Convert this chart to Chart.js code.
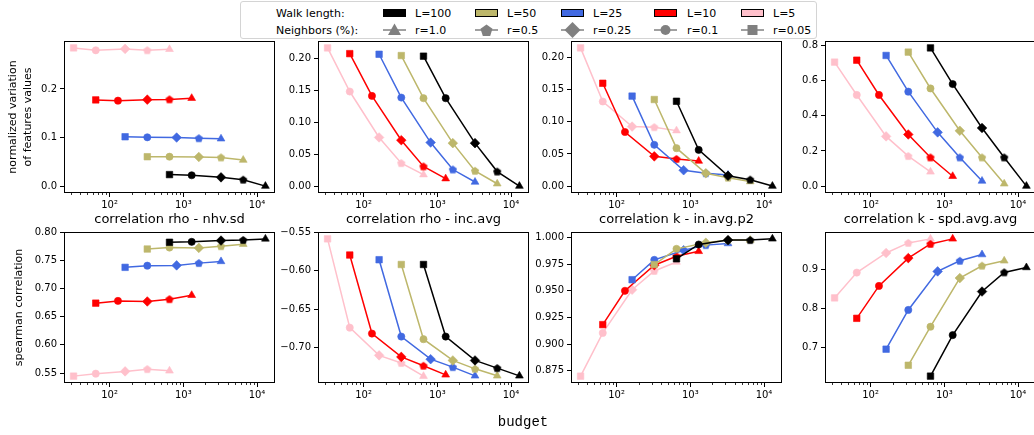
<!DOCTYPE html>
<html><head><meta charset="utf-8">
<script src="https://cdn.jsdelivr.net/npm/chart.js@4.4.1/dist/chart.umd.min.js"></script>
<style>
html,body{margin:0;padding:0;background:#fff;}
#wrap{position:relative;width:1034px;height:435px;overflow:hidden;background:#fff;font-family:'DejaVu Sans',sans-serif;}
#wrap canvas.panel{position:absolute;}
#legendBox{position:absolute;left:240px;top:1px;width:577px;height:38px;box-sizing:border-box;border:1px solid #d4d4d4;border-radius:3px;background:#fff;z-index:5;}
.lt{position:absolute;font-size:11px;line-height:13px;white-space:nowrap;color:#000;transform:translateY(-50%);z-index:6;}
.patch{position:absolute;width:23px;height:8px;box-sizing:border-box;border:1px solid #000;z-index:6;}
.mk{position:absolute;z-index:6;}
#xlabel{position:absolute;left:523px;top:422px;transform:translate(-50%,-50%);font-family:'Liberation Mono','DejaVu Sans Mono',monospace;font-size:14px;color:#000;white-space:nowrap;}
</style></head><body>
<div id="wrap"></div>
<script>
// ---------------- data ----------------
const walkLabels = ['L=100', 'L=50', 'L=25', 'L=10', 'L=5'];
const ratioLabels = ['r=1.0', 'r=0.5', 'r=0.25', 'r=0.1', 'r=0.05'];
// budgets per walk length, for r = 0.05, 0.1, 0.25, 0.5, 1.0
const budgetL100 = [650, 1300, 3250, 6500, 13000];
const budgetL50  = [325, 650, 1625, 3250, 6500];
const budgetL25  = [162.5, 325, 812.5, 1625, 3250];
const budgetL10  = [65, 130, 325, 650, 1300];
const budgetL5   = [32.5, 65, 162.5, 325, 650];
const budgets = [budgetL100, budgetL50, budgetL25, budgetL10, budgetL5];

// top row: normalized variation of features values (order L=100,50,25,10,5)
const varNhvSd = [
  [0.0237, 0.0223, 0.0180, 0.0132, 0.0000],
  [0.0605, 0.0605, 0.0600, 0.0590, 0.0536],
  [0.1016, 0.1005, 0.1000, 0.0985, 0.0975],
  [0.1775, 0.1760, 0.1780, 0.1785, 0.1810],
  [0.2846, 0.2797, 0.2825, 0.2797, 0.2818]
];
const varIncAvg = [
  [0.204, 0.138, 0.0674, 0.0228, 0.0000],
  [0.205, 0.138, 0.0674, 0.0239, 0.0037],
  [0.207, 0.139, 0.0684, 0.0260, 0.0064],
  [0.208, 0.1416, 0.0721, 0.0308, 0.0117],
  [0.217, 0.1485, 0.0764, 0.0360, 0.0180]
];
const varInAvgP2 = [
  [0.132, 0.0563, 0.0160, 0.0100, 0.0000],
  [0.1347, 0.0590, 0.0200, 0.0130, 0.0070],
  [0.140, 0.0642, 0.0247, 0.0200, 0.0174],
  [0.160, 0.0842, 0.0463, 0.0421, 0.0390],
  [0.215, 0.1316, 0.0926, 0.0916, 0.0863]
];
const varSpdAvgAvg = [
  [0.787, 0.581, 0.331, 0.163, 0.000],
  [0.763, 0.556, 0.315, 0.163, 0.013],
  [0.744, 0.538, 0.306, 0.163, 0.029],
  [0.717, 0.519, 0.294, 0.163, 0.056],
  [0.706, 0.519, 0.283, 0.171, 0.081]
];
// bottom row: spearman correlation
const corrRhoNhvSd = [
  [0.782, 0.7827, 0.785, 0.786, 0.788],
  [0.770, 0.7726, 0.772, 0.775, 0.7786],
  [0.7375, 0.7405, 0.741, 0.745, 0.748],
  [0.674, 0.678, 0.677, 0.681, 0.688],
  [0.5446, 0.549, 0.553, 0.557, 0.554]
];
const corrRhoIncAvg = [
  [-0.592, -0.6856, -0.7166, -0.7266, -0.7366],
  [-0.592, -0.689, -0.7166, -0.7275, -0.7366],
  [-0.5858, -0.6856, -0.715, -0.7253, -0.7366],
  [-0.5797, -0.6817, -0.712, -0.7235, -0.7353],
  [-0.5587, -0.674, -0.710, -0.720, -0.737]
];
const corrKInAvgP2 = [
  [0.980, 0.9934, 0.9975, 0.9975, 0.9987],
  [0.9746, 0.9893, 0.995, 0.9975, 0.9975],
  [0.9604, 0.979, 0.988, 0.9928, 0.9943],
  [0.9183, 0.950, 0.974, 0.9824, 0.987],
  [0.870, 0.9105, 0.951, 0.9686, 0.977]
];
const corrKSpdAvgAvg = [
  [0.627, 0.7316, 0.8427, 0.8915, 0.904],
  [0.6547, 0.753, 0.877, 0.9085, 0.921],
  [0.6957, 0.7957, 0.894, 0.921, 0.937],
  [0.7744, 0.857, 0.928, 0.964, 0.977],
  [0.8265, 0.891, 0.941, 0.9667, 0.977]
];

const panelTitles = ['correlation rho - nhv.sd', 'correlation rho - inc.avg', 'correlation k - in.avg.p2', 'correlation k - spd.avg.avg'];
const yTicksP1 = [0.0, 0.1, 0.2];
const yTicksP2 = [0.00, 0.05, 0.10, 0.15, 0.20];
const yTicksP3 = [0.00, 0.05, 0.10, 0.15, 0.20];
const yTicksP4 = [0.0, 0.2, 0.4, 0.6, 0.8];
const yTicksP5 = [0.55, 0.60, 0.65, 0.70, 0.75, 0.80];
const yTicksP6 = [-0.70, -0.65, -0.60, -0.55];
const yTicksP7 = [0.875, 0.900, 0.925, 0.950, 0.975, 1.000];
const yTicksP8 = [0.7, 0.8, 0.9];
const xMajorTicks = [100, 1000, 10000];
const xMinorTicks = [30,40,50,60,70,80,90,200,300,400,500,600,700,800,900,2000,3000,4000,5000,6000,7000,8000,9000];
const xTickLabels = {100: '10\u00B2', 1000: '10\u00B3', 10000: '10\u2074'};

// ---------------- styles ----------------
const walkColors = ['#000000', '#BDB76B', '#4169E1', '#FF0000', '#FFC0CB'];
const X_MIN = 24.1, X_MAX = 17540;

function pentagonImg(color, r) {
  const s = 10;
  const c = document.createElement('canvas'); c.width = s; c.height = s;
  const g = c.getContext('2d');
  g.beginPath();
  for (let k = 0; k < 5; k++) {
    const a = -Math.PI / 2 + k * 2 * Math.PI / 5;
    const px = s / 2 + r * Math.cos(a), py = s / 2 + 0.3 + r * Math.sin(a);
    if (k) g.lineTo(px, py); else g.moveTo(px, py);
  }
  g.closePath(); g.fillStyle = color; g.fill();
  return c;
}

const panels = [
  {values: varNhvSd, yMin: -0.0142, yMax: 0.2988, ticks: yTicksP1, dec: 1, yTitle: ['normalized variation', 'of features values'], yTitlePad: 1.5},
  {values: varIncAvg, yMin: -0.01085, yMax: 0.22785, ticks: yTicksP2, dec: 2},
  {values: varInAvgP2, yMin: -0.01075, yMax: 0.22575, ticks: yTicksP3, dec: 2},
  {values: varSpdAvgAvg, yMin: -0.03935, yMax: 0.82635, ticks: yTicksP4, dec: 1},
  {values: corrRhoNhvSd, yMin: 0.5324, yMax: 0.8002, ticks: yTicksP5, dec: 2, title: panelTitles[0], yTitle: 'spearman correlation', yTitlePad: 7.5},
  {values: corrRhoIncAvg, yMin: -0.7459, yMax: -0.5498, ticks: yTicksP6, dec: 2, title: panelTitles[1]},
  {values: corrKInAvgP2, yMin: 0.8636, yMax: 1.0051, ticks: yTicksP7, dec: 3, title: panelTitles[2]},
  {values: corrKSpdAvgAvg, yMin: 0.6095, yMax: 0.9945, ticks: yTicksP8, dec: 1, title: panelTitles[3]}
];

const colLefts = [64, 318, 571, 825];
const rowTops = [41, 232];
const rowHeights = [152, 151];
const PLOT_W = 211, YW = 60, PT = 10, PR = 10, XH = 30;

function fmt(v, dec) {
  return v.toFixed(dec).replace('-', '\u2212');
}

const framePlugin = {
  id: 'frame',
  afterDatasetsDraw(chart) {
    const {ctx, chartArea: a, scales: {x}} = chart;
    ctx.save();
    ctx.strokeStyle = '#000'; ctx.lineWidth = 1;
    const l = Math.round(a.left) + 0.5, t = Math.round(a.top) + 0.5;
    const r = Math.round(a.right) - 0.5, b = Math.round(a.bottom) - 0.5;
    ctx.strokeRect(l, t, r - l, b - t);
    ctx.lineWidth = 0.8;
    xMinorTicks.forEach(v => {
      const px = Math.round(x.getPixelForValue(v)) + 0.5;
      ctx.beginPath(); ctx.moveTo(px, b); ctx.lineTo(px, b + 2.5); ctx.stroke();
    });
    ctx.restore();
  }
};

Chart.defaults.font.family = "'DejaVu Sans', sans-serif";
Chart.defaults.color = '#000';

const wrap = document.getElementById('wrap');

panels.forEach((p, idx) => {
  const col = idx % 4, row = Math.floor(idx / 4);
  const TH = p.title ? 20 : 0;
  const cv = document.createElement('canvas');
  cv.className = 'panel';
  cv.width = YW + PLOT_W + PR;
  cv.height = PT + TH + rowHeights[row] + XH;
  cv.style.left = (colLefts[col] - YW) + 'px';
  cv.style.top = (rowTops[row] - PT - TH) + 'px';
  cv.style.width = cv.width + 'px';
  cv.style.height = cv.height + 'px';
  wrap.appendChild(cv);

  const datasets = walkLabels.map((lab, i) => {
    const c = walkColors[i];
    const pent = pentagonImg(c, 4.3);
    return {
      label: lab,
      data: budgets[i].map((b, j) => ({x: b, y: p.values[i][j]})),
      borderColor: c,
      backgroundColor: c,
      borderWidth: 1.5,
      tension: 0,
      pointStyle: ['rect', 'circle', 'rectRot', pent, 'triangle'],
      pointRadius: [4.6, 3.6, 4.8, 4, 4.5],
      pointBorderWidth: 0.6,
      pointBorderColor: c,
      pointBackgroundColor: c,
      clip: 8
    };
  });

  new Chart(cv, {
    type: 'line',
    data: {datasets},
    options: {
      responsive: false,
      animation: false,
      devicePixelRatio: 1,
      events: [],
      layout: {padding: {top: PT, right: PR, bottom: 0, left: 0}},
      plugins: {
        legend: {display: false},
        tooltip: {enabled: false},
        title: p.title ? {display: true, text: p.title, fullSize: false, font: {size: 13, weight: 'normal', lineHeight: 1.2}, padding: {top: 0, bottom: 4.4}, color: '#000'} : {display: false}
      },
      scales: {
        x: {
          type: 'logarithmic', min: X_MIN, max: X_MAX, bounds: 'data',
          afterBuildTicks: s => { s.ticks = xMajorTicks.concat(xMinorTicks).sort((a, b) => a - b).map(v => ({value: v})); },
          ticks: {autoSkip: false, maxRotation: 0, minRotation: 0, padding: 2, font: {size: 10}, color: '#000',
            callback: v => xTickLabels[v] || ''},
          grid: {drawOnChartArea: false, tickLength: 4, tickWidth: 1,
            tickColor: c => (c.tick && xMajorTicks.includes(c.tick.value)) ? '#000' : 'rgba(0,0,0,0)'},
          border: {display: false},
          afterFit: s => { s.height = XH; }
        },
        y: {
          type: 'linear', min: p.yMin, max: p.yMax, bounds: 'data',
          afterBuildTicks: s => { s.ticks = p.ticks.map(v => ({value: v})); },
          ticks: {padding: 3, font: {size: 10}, color: '#000', callback: v => fmt(v, p.dec)},
          grid: {drawOnChartArea: false, tickLength: 4, tickWidth: 1, tickColor: '#000'},
          border: {display: false},
          title: p.yTitle ? {display: true, text: p.yTitle, font: {size: 11, lineHeight: 1.36}, color: '#000', padding: {top: p.yTitlePad, bottom: 0}} : {display: false},
          afterFit: s => { s.width = YW; }
        }
      }
    },
    plugins: [framePlugin]
  });
});

// ---------------- legend ----------------
const legendBox = document.createElement('div');
legendBox.id = 'legendBox';
wrap.appendChild(legendBox);

function addText(txt, left, cy) {
  const d = document.createElement('div');
  d.className = 'lt'; d.textContent = txt;
  d.style.left = left + 'px'; d.style.top = cy + 'px';
  wrap.appendChild(d);
}
const handleLefts = [383, 475, 561, 654, 741];
const labelLefts = [415, 507, 593, 687, 773];
const row1Y = 12.5, row2Y = 30;
addText('Walk length:', 276, row1Y);
addText('Neighbors (%):', 276, row2Y);
walkLabels.forEach((lab, i) => {
  const pd = document.createElement('div');
  pd.className = 'patch';
  pd.style.left = handleLefts[i] + 'px';
  pd.style.top = (row1Y - 4) + 'px';
  pd.style.background = walkColors[i];
  wrap.appendChild(pd);
  addText(lab, labelLefts[i], row1Y);
});

const legendShapes = ['triangle', 'pentagon', 'diamond', 'circle', 'square'];
function drawLegendMarker(g, shape, cx, cy) {
  g.beginPath();
  if (shape === 'triangle') {
    g.moveTo(cx, cy - 6.5); g.lineTo(cx + 6.5, cy + 5); g.lineTo(cx - 6.5, cy + 5);
  } else if (shape === 'pentagon') {
    for (let k = 0; k < 5; k++) {
      const a = -Math.PI / 2 + k * 2 * Math.PI / 5;
      const px = cx + 6.3 * Math.cos(a), py = cy + 0.8 + 6.3 * Math.sin(a);
      if (k) g.lineTo(px, py); else g.moveTo(px, py);
    }
  } else if (shape === 'diamond') {
    g.moveTo(cx, cy - 8); g.lineTo(cx + 8, cy); g.lineTo(cx, cy + 8); g.lineTo(cx - 8, cy);
  } else if (shape === 'circle') {
    g.arc(cx, cy, 5, 0, Math.PI * 2);
  } else {
    g.rect(cx - 5, cy - 5, 10, 10);
  }
  g.closePath(); g.fill();
}
ratioLabels.forEach((lab, i) => {
  const c = document.createElement('canvas');
  c.className = 'mk'; c.width = 27; c.height = 18;
  c.style.left = (handleLefts[i] - 2) + 'px';
  c.style.top = (row2Y - 9) + 'px';
  const g = c.getContext('2d');
  g.strokeStyle = '#808080'; g.fillStyle = '#808080'; g.lineWidth = 1.5;
  g.beginPath(); g.moveTo(2, 9); g.lineTo(25, 9); g.stroke();
  drawLegendMarker(g, legendShapes[i], 13.5, 9);
  wrap.appendChild(c);
  addText(lab, labelLefts[i], row2Y);
});

const xl = document.createElement('div');
xl.id = 'xlabel'; xl.textContent = 'budget';
wrap.appendChild(xl);
</script>
</body></html>
